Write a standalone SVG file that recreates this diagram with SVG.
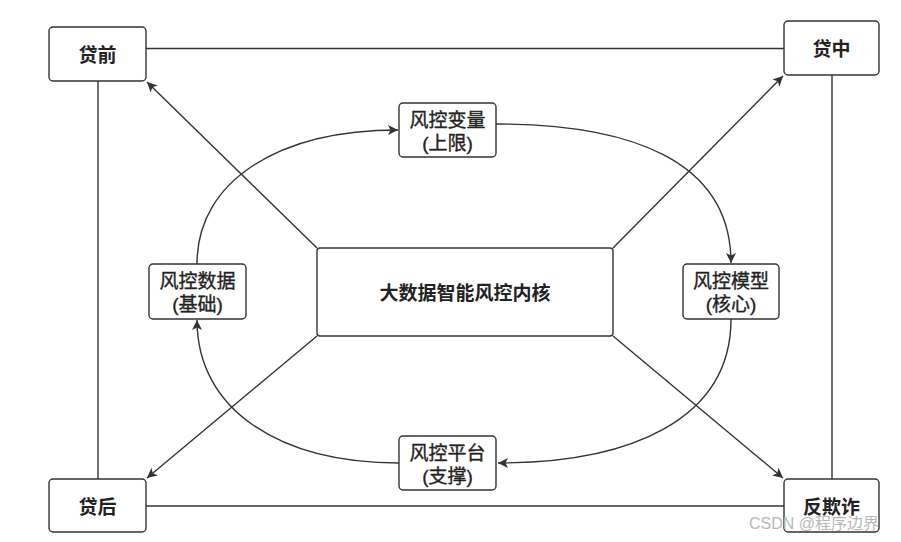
<svg xmlns="http://www.w3.org/2000/svg" width="901" height="542" viewBox="0 0 901 542">
<style>
.box{fill:#fff;stroke:#333;stroke-width:1.4}
.ln{fill:none;stroke:#333;stroke-width:1.4}
.t{font-family:"Liberation Sans","Noto Sans CJK SC",sans-serif;font-size:19px;fill:#222;text-anchor:middle;dominant-baseline:central}
.b{font-weight:700}
.m{font-weight:400;stroke:#222;stroke-width:0.35}
.wm{font-family:"Liberation Sans","Noto Sans CJK SC",sans-serif;font-size:16px;fill:#b8b8b8}
</style>
<defs>
<marker id="ar" viewBox="0 0 10 10" refX="10" refY="5" markerWidth="10" markerHeight="10" markerUnits="userSpaceOnUse" orient="auto">
<path d="M0,0 L10,5 L0,10 L2.5,5 Z" fill="#333"/>
</marker>
</defs>
<rect width="901" height="542" fill="#fff"/>
<g id="connectors">
<line class="ln" x1="146" y1="48.5" x2="784" y2="48.5"/>
<line class="ln" x1="146" y1="506" x2="784" y2="506"/>
<line class="ln" x1="98" y1="81" x2="98" y2="479"/>
<line class="ln" x1="832" y1="75" x2="832" y2="479"/>
<line class="ln" x1="317" y1="248" x2="147" y2="82" marker-end="url(#ar)"/>
<line class="ln" x1="613" y1="248" x2="783" y2="76" marker-end="url(#ar)"/>
<line class="ln" x1="317" y1="336" x2="147" y2="478" marker-end="url(#ar)"/>
<line class="ln" x1="613" y1="336" x2="783" y2="478" marker-end="url(#ar)"/>
<path class="ln" d="M197,264 C197,180 280,130 398,130" marker-end="url(#ar)"/>
<path class="ln" d="M496,124 C630,124 731,160 731,263" marker-end="url(#ar)"/>
<path class="ln" d="M731,319 C731,420 630,463 498,463" marker-end="url(#ar)"/>
<path class="ln" d="M399,463 C280,463 197,410 197,320" marker-end="url(#ar)"/>
</g>
<g id="n-daiqian"><rect class="box" x="49" y="27" width="97" height="54" rx="4"/><text class="t b" x="97.5" y="55">贷前</text></g>
<g id="n-daizhong"><rect class="box" x="784" y="21" width="95" height="54" rx="4"/><text class="t b" x="831.5" y="49">贷中</text></g>
<g id="n-daihou"><rect class="box" x="49" y="479" width="97" height="53" rx="4"/><text class="t b" x="97.5" y="507">贷后</text></g>
<g id="n-fanqizha"><rect class="box" x="784" y="479" width="95" height="53" rx="4"/><text class="t b" x="831.5" y="507">反欺诈</text></g>
<g id="n-core"><rect class="box" x="317" y="248" width="296" height="88" rx="3"/><text class="t b" x="465" y="293">大数据智能风控内核</text></g>
<g id="n-bianliang"><rect class="box" x="399" y="103" width="97" height="54" rx="4"/><text class="t m" x="447.5" y="120">风控变量</text><text class="t m" x="447.5" y="143">(上限)</text></g>
<g id="n-shuju"><rect class="box" x="149" y="264" width="97" height="55" rx="4"/><text class="t m" x="197.5" y="281">风控数据</text><text class="t m" x="197.5" y="304">(基础)</text></g>
<g id="n-moxing"><rect class="box" x="683" y="264" width="96" height="55" rx="4"/><text class="t m" x="731" y="281">风控模型</text><text class="t m" x="731" y="304">(核心)</text></g>
<g id="n-pingtai"><rect class="box" x="399" y="436" width="97" height="54" rx="4"/><text class="t m" x="447.5" y="453">风控平台</text><text class="t m" x="447.5" y="476">(支撑)</text></g>
<text class="wm" x="749" y="529">CSDN @程序边界</text>
</svg>
